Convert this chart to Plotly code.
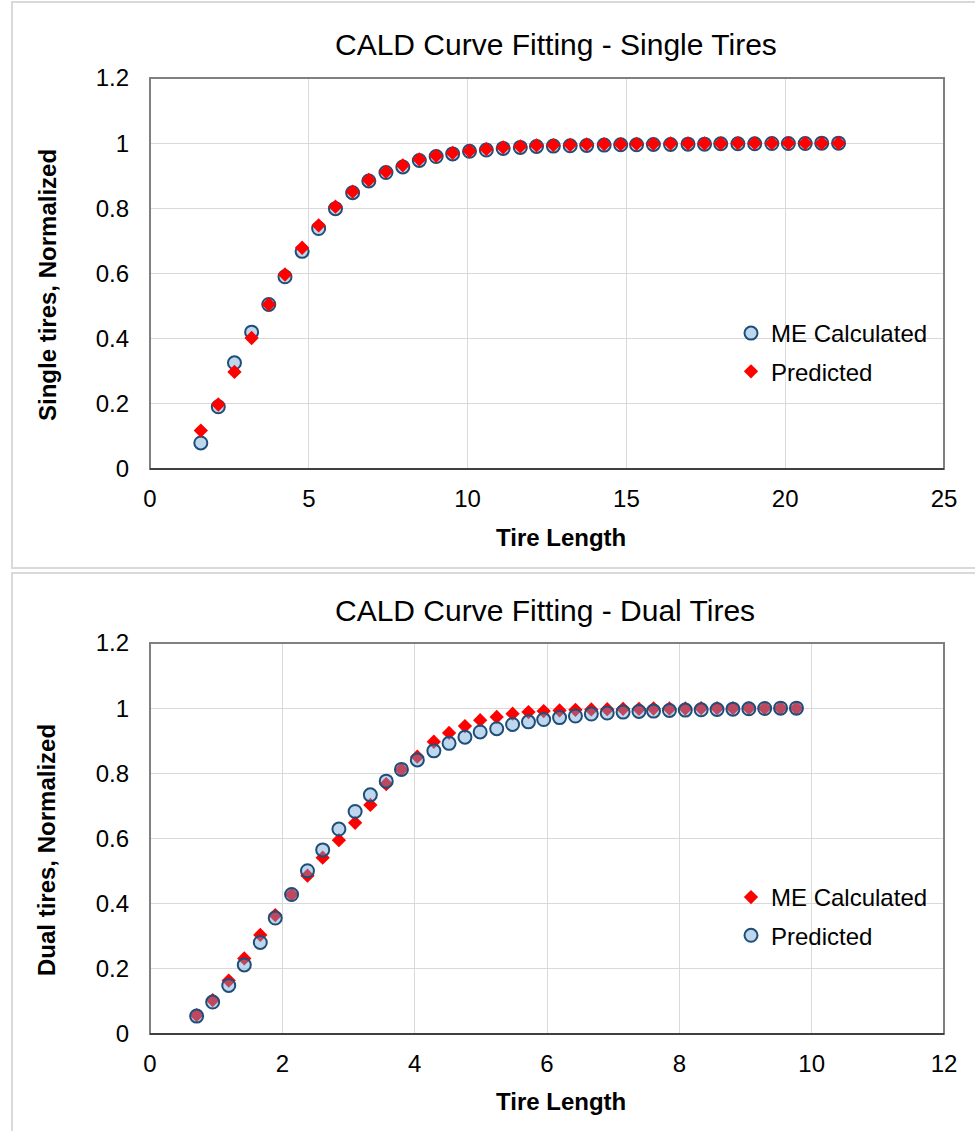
import plotly.graph_objects as go

# ---------------- data ----------------
single_x = [1.60, 2.15, 2.66, 3.20, 3.74, 4.25, 4.79, 5.31, 5.84, 6.38, 6.89, 7.43, 7.96,
            8.48, 9.01, 9.53, 10.06, 10.59, 11.12, 11.66, 12.17, 12.70, 13.23, 13.75, 14.30,
            14.82, 15.32, 15.85, 16.39, 16.94, 17.46, 17.97, 18.51, 19.04, 19.58, 20.10,
            20.63, 21.15, 21.68]
single_me = [0.080, 0.191, 0.326, 0.420, 0.505, 0.590, 0.668, 0.738, 0.799, 0.848, 0.884,
             0.910, 0.927, 0.947, 0.959, 0.967, 0.975, 0.979, 0.984, 0.987, 0.990, 0.991,
             0.992, 0.993, 0.994, 0.995, 0.995, 0.996, 0.996, 0.997, 0.997, 0.998, 0.998,
             0.998, 0.999, 0.999, 0.999, 1.000, 1.000]
single_pred = [0.118, 0.198, 0.298, 0.402, 0.505, 0.597, 0.679, 0.748, 0.805, 0.851, 0.887,
               0.912, 0.932, 0.950, 0.961, 0.970, 0.976, 0.982, 0.987, 0.990, 0.993, 0.994,
               0.995, 0.996, 0.997, 0.997, 0.998, 0.998, 0.999, 0.999, 0.999, 0.999, 1.000,
               1.000, 1.000, 1.000, 1.000, 1.000, 1.000]

dual_x = [0.705, 0.947, 1.19, 1.425, 1.667, 1.893, 2.14, 2.38, 2.61, 2.855, 3.10, 3.33, 3.57,
          3.80, 4.04, 4.29, 4.52, 4.76, 4.99, 5.24, 5.48, 5.72, 5.95, 6.19, 6.43, 6.67, 6.91,
          7.15, 7.39, 7.61, 7.85, 8.09, 8.33, 8.57, 8.81, 9.05, 9.29, 9.53, 9.77]
dual_me = [0.058, 0.104, 0.164, 0.232, 0.304, 0.365, 0.428, 0.486, 0.541, 0.595, 0.648, 0.703,
           0.767, 0.812, 0.851, 0.897, 0.924, 0.945, 0.963, 0.973, 0.983, 0.988, 0.991, 0.993,
           0.995, 0.996, 0.997, 0.998, 0.998, 0.999, 0.999, 0.999, 1.000, 1.000, 1.000, 1.000,
           1.000, 1.000, 1.000]
dual_pred = [0.055, 0.098, 0.149, 0.212, 0.281, 0.356, 0.428, 0.501, 0.565, 0.629, 0.683,
             0.734, 0.776, 0.812, 0.841, 0.869, 0.892, 0.911, 0.927, 0.937, 0.950, 0.958,
             0.965, 0.971, 0.976, 0.982, 0.985, 0.988, 0.990, 0.991, 0.993, 0.994, 0.995,
             0.996, 0.997, 0.998, 0.999, 1.000, 1.000]

y_ticks = [0, 0.2, 0.4, 0.6, 0.8, 1, 1.2]
y_tick_labels = ["0", "0.2", "0.4", "0.6", "0.8", "1", "1.2"]
single_x_ticks = [0, 5, 10, 15, 20, 25]
dual_x_ticks = [0, 2, 4, 6, 8, 10, 12]

# ---------------- styles ----------------
W, H = 975, 1131
FONT = "Liberation Sans, Arial, sans-serif"
circle_marker = dict(symbol="circle", size=13, color="rgba(105,164,216,0.44)",
                     line=dict(color="#1F4E79", width=2))
diamond_marker = dict(symbol="diamond", size=11, color="#FF0000", line=dict(width=0))

def px_x(p):
    return p / W

def px_y(p):
    return 1 - p / H

fig = go.Figure()

# top chart: circles first, then diamonds on top
fig.add_trace(go.Scatter(x=single_x, y=single_me, mode="markers", name="ME Calculated",
                         marker=circle_marker, xaxis="x", yaxis="y", legend="legend",
                         legendgroup="a"))
fig.add_trace(go.Scatter(x=single_x, y=single_pred, mode="markers", name="Predicted",
                         marker=diamond_marker, xaxis="x", yaxis="y", legend="legend",
                         legendgroup="b"))
# bottom chart: diamonds first, then circles on top
fig.add_trace(go.Scatter(x=dual_x, y=dual_me, mode="markers", name="ME Calculated",
                         marker=diamond_marker, xaxis="x2", yaxis="y2", legend="legend2",
                         legendgroup="c"))
fig.add_trace(go.Scatter(x=dual_x, y=dual_pred, mode="markers", name="Predicted",
                         marker=circle_marker, xaxis="x2", yaxis="y2", legend="legend2",
                         legendgroup="d"))

x_dom = [px_x(150), px_x(944)]
top_dom = [px_y(469), px_y(78)]
bot_dom = [px_y(1034), px_y(643)]

tickfont = dict(family=FONT, size=24, color="#000000")
axis_common = dict(showgrid=True, gridcolor="#D9D9D9", gridwidth=1, zeroline=False,
                   showline=False, ticks="", tickfont=tickfont, automargin=False)
xaxis_common = dict(ticklabelstandoff=13, **axis_common)
yaxis_common = dict(ticklabelstandoff=20, **axis_common)

legend_font = dict(family=FONT, size=24, color="#000000")
fig.update_layout(
    width=W, height=H, margin=dict(l=0, r=0, t=0, b=0, autoexpand=False),
    paper_bgcolor="white", plot_bgcolor="white",
    font=dict(family=FONT, color="#000000"),
    xaxis=dict(domain=x_dom, anchor="y", range=[0, 25], tickvals=single_x_ticks, **xaxis_common),
    yaxis=dict(domain=top_dom, anchor="x", range=[0, 1.2], tickvals=y_ticks,
               ticktext=y_tick_labels, **yaxis_common),
    xaxis2=dict(domain=x_dom, anchor="y2", range=[0, 12], tickvals=dual_x_ticks, **xaxis_common),
    yaxis2=dict(domain=bot_dom, anchor="x2", range=[0, 1.2], tickvals=y_ticks,
                ticktext=y_tick_labels, **yaxis_common),
    legend=dict(x=px_x(731), y=px_y(311), xanchor="left", yanchor="top",
                font=legend_font, bgcolor="rgba(0,0,0,0)",
                traceorder="grouped", tracegroupgap=4, itemwidth=30),
    legend2=dict(x=px_x(731), y=px_y(875), xanchor="left", yanchor="top",
                 font=legend_font, bgcolor="rgba(0,0,0,0)",
                 traceorder="grouped", tracegroupgap=4, itemwidth=30),
    showlegend=True,
)

shapes = []
# panel borders
shapes.append(dict(type="rect", xref="paper", yref="paper", x0=px_x(12), x1=px_x(985),
                   y0=px_y(568), y1=px_y(2), line=dict(color="#D9D9D9", width=2),
                   fillcolor="rgba(0,0,0,0)", layer="below"))
shapes.append(dict(type="rect", xref="paper", yref="paper", x0=px_x(12), x1=px_x(985),
                   y0=px_y(1140), y1=px_y(573), line=dict(color="#D9D9D9", width=2),
                   fillcolor="rgba(0,0,0,0)", layer="below"))
# plot area borders
for xr, yr in (("x", "y"), ("x2", "y2")):
    shapes.append(dict(type="rect", xref=f"{xr} domain", yref=f"{yr} domain", x0=0, x1=1,
                       y0=0, y1=1, line=dict(color="#808080", width=2),
                       fillcolor="rgba(0,0,0,0)", layer="above"))
    shapes.append(dict(type="line", xref=f"{xr} domain", yref=f"{yr} domain", x0=0, x1=1,
                       y0=0, y1=0, line=dict(color="#404040", width=2), layer="above"))
fig.update_layout(shapes=shapes)

ann = []
title_font = dict(family=FONT, size=30, color="#000000")
axis_title_font = dict(family=FONT, size=24, color="#000000")
ann.append(dict(text="CALD Curve Fitting - Single Tires", xref="paper", yref="paper",
                x=px_x(556), y=px_y(45), showarrow=False, font=title_font,
                xanchor="center", yanchor="middle"))
ann.append(dict(text="CALD Curve Fitting - Dual Tires", xref="paper", yref="paper",
                x=px_x(545), y=px_y(610), showarrow=False, font=title_font,
                xanchor="center", yanchor="middle"))
ann.append(dict(text="<b>Tire Length</b>", xref="paper", yref="paper",
                x=px_x(561), y=px_y(537), showarrow=False, font=axis_title_font,
                xanchor="center", yanchor="middle"))
ann.append(dict(text="<b>Tire Length</b>", xref="paper", yref="paper",
                x=px_x(561), y=px_y(1101), showarrow=False, font=axis_title_font,
                xanchor="center", yanchor="middle"))
ann.append(dict(text="<b>Single tires, Normalized</b>", xref="paper", yref="paper",
                x=px_x(47), y=px_y(285), showarrow=False, font=axis_title_font,
                textangle=-90, xanchor="center", yanchor="middle"))
ann.append(dict(text="<b>Dual tires, Normalized</b>", xref="paper", yref="paper",
                x=px_x(47), y=px_y(850), showarrow=False, font=axis_title_font,
                textangle=-90, xanchor="center", yanchor="middle"))
fig.update_layout(annotations=ann)

fig.write_html("out.html")
